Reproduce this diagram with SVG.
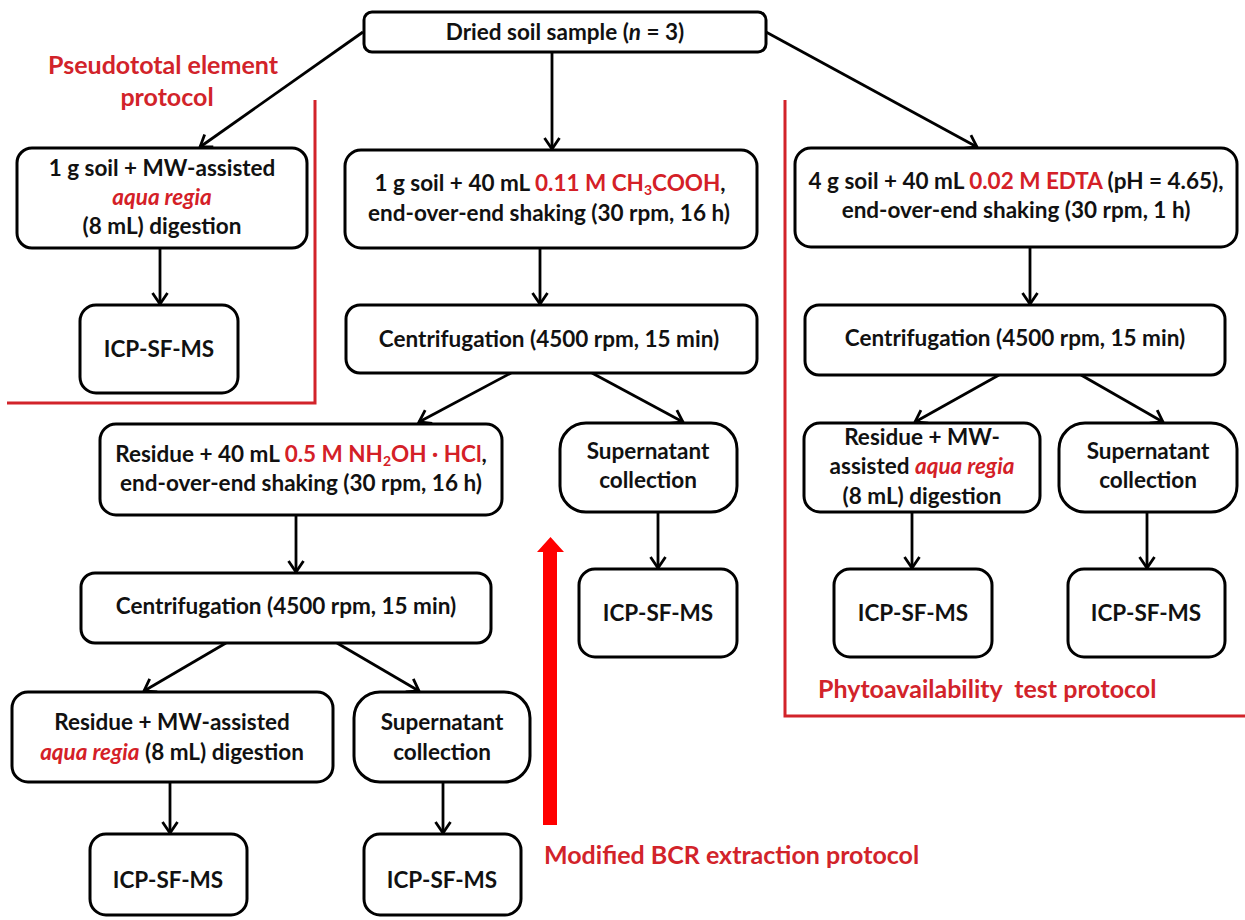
<svg xmlns="http://www.w3.org/2000/svg" width="1245" height="920" viewBox="0 0 1245 920">
<defs>
<style>
.box{fill:#fff;stroke:#000;stroke-width:3}
.t{font-family:Lato,"Liberation Sans",sans-serif;font-weight:700;font-size:22.5px;fill:#111;text-anchor:middle}
.r{fill:#d42027}
.i{font-style:italic}
.lab{font-family:Lato,"Liberation Sans",sans-serif;font-weight:700;font-size:25px;fill:#d2232a}
.c{fill:none;stroke:#000;stroke-width:2.8}
.rl{fill:none;stroke:#d2232a;stroke-width:3}
</style>
<marker id="ah" markerUnits="userSpaceOnUse" markerWidth="18" markerHeight="18" viewBox="0 0 18 18" refX="15" refY="9" orient="auto">
<path d="M4,1.5 L15,9 L4,16.5" fill="none" stroke="#000" stroke-width="2.8"/>
</marker>
</defs>
<g id="annotations">
<polyline class="rl" points="315,100 315,403 7,403"/>
<polyline class="rl" points="785,100 785,716 1245,716"/>
<text class="lab" x="163" y="74" text-anchor="middle">Pseudototal element</text>
<text class="lab" x="167" y="106" text-anchor="middle">protocol</text>
<text class="lab" x="818" y="698" style="white-space:pre">Phytoavailability  test protocol</text>
<text class="lab" x="544" y="864">Modified BCR extraction protocol</text>
<polygon points="543,825 557,825 557,552 564,552 550.5,537 537,552 543,552" fill="#ff0000"/>
</g>
<g id="connectors">
<line class="c" x1="363" y1="32" x2="200" y2="147" marker-end="url(#ah)"/>
<line class="c" x1="552" y1="52" x2="552" y2="149" marker-end="url(#ah)"/>
<line class="c" x1="766" y1="32" x2="977" y2="147" marker-end="url(#ah)"/>
<line class="c" x1="160" y1="248" x2="160" y2="304" marker-end="url(#ah)"/>
<line class="c" x1="540" y1="248" x2="540" y2="304" marker-end="url(#ah)"/>
<line class="c" x1="1030" y1="247" x2="1030" y2="304" marker-end="url(#ah)"/>
<line class="c" x1="511" y1="373" x2="419" y2="422" marker-end="url(#ah)"/>
<line class="c" x1="592" y1="373" x2="683" y2="422" marker-end="url(#ah)"/>
<line class="c" x1="999" y1="375" x2="915" y2="422" marker-end="url(#ah)"/>
<line class="c" x1="1081" y1="375" x2="1163" y2="422" marker-end="url(#ah)"/>
<line class="c" x1="296" y1="515" x2="296" y2="572" marker-end="url(#ah)"/>
<line class="c" x1="658" y1="512" x2="658" y2="568" marker-end="url(#ah)"/>
<line class="c" x1="912" y1="512" x2="912" y2="568" marker-end="url(#ah)"/>
<line class="c" x1="1147" y1="512" x2="1147" y2="568" marker-end="url(#ah)"/>
<line class="c" x1="226" y1="643" x2="144" y2="691" marker-end="url(#ah)"/>
<line class="c" x1="337" y1="643" x2="419" y2="691" marker-end="url(#ah)"/>
<line class="c" x1="170" y1="782" x2="170" y2="833" marker-end="url(#ah)"/>
<line class="c" x1="443" y1="782" x2="443" y2="833" marker-end="url(#ah)"/>
</g>
<g id="n_top">
<rect class="box" x="364" y="12" width="402" height="40" rx="8"/>
<text class="t" x="565" y="40">Dried soil sample (<tspan class="i">n</tspan> = 3)</text>
</g>
<g id="n_l1">
<rect class="box" x="17" y="148" width="290" height="100" rx="15"/>
<text class="t" x="162" y="176">1 g soil + MW-assisted</text>
<text class="t r i" x="162" y="205">aqua regia</text>
<text class="t" x="162" y="234">(8 mL) digestion</text>
</g>
<g id="n_l2">
<rect class="box" x="80" y="305" width="158" height="88" rx="16"/>
<text class="t" x="159" y="357">ICP-SF-MS</text>
</g>
<g id="n_m1">
<rect class="box" x="345" y="150" width="412" height="98" rx="16"/>
<text class="t" x="550" y="191">1 g soil + 40 mL <tspan class="r">0.11 M CH<tspan font-size="14" dy="4">3</tspan><tspan dy="-4">COOH</tspan></tspan>,</text>
<text class="t" x="549" y="221">end-over-end shaking (30 rpm, 16 h)</text>
</g>
<g id="n_m2">
<rect class="box" x="346" y="305" width="411" height="68" rx="14"/>
<text class="t" x="549" y="347">Centrifugation (4500 rpm, 15 min)</text>
</g>
<g id="n_r1">
<rect class="box" x="795" y="148" width="442" height="99" rx="16"/>
<text class="t" x="1016" y="189">4 g soil + 40 mL <tspan class="r">0.02 M EDTA</tspan> (pH = 4.65),</text>
<text class="t" x="1016" y="218">end-over-end shaking (30 rpm, 1 h)</text>
</g>
<g id="n_r2">
<rect class="box" x="805" y="305" width="420" height="70" rx="14"/>
<text class="t" x="1015" y="346">Centrifugation (4500 rpm, 15 min)</text>
</g>
<g id="n_res1">
<rect class="box" x="100" y="424" width="402" height="91" rx="16"/>
<text class="t" x="301" y="462">Residue + 40 mL <tspan class="r">0.5 M NH<tspan font-size="14" dy="4">2</tspan><tspan dy="-4">OH · HCl</tspan></tspan>,</text>
<text class="t" x="301" y="491">end-over-end shaking (30 rpm, 16 h)</text>
</g>
<g id="n_cen3">
<rect class="box" x="81" y="573" width="410" height="70" rx="14"/>
<text class="t" x="286" y="614">Centrifugation (4500 rpm, 15 min)</text>
</g>
<g id="n_res2">
<rect class="box" x="12" y="692" width="321" height="90" rx="16"/>
<text class="t" x="172" y="730">Residue + MW-assisted</text>
<text class="t" x="172" y="760"><tspan class="r i">aqua regia</tspan> (8 mL) digestion</text>
</g>
<g id="n_sup3">
<rect class="box" x="354" y="692" width="176" height="90" rx="26"/>
<text class="t" x="442" y="730">Supernatant</text>
<text class="t" x="442" y="760">collection</text>
</g>
<g id="n_icp3a">
<rect class="box" x="90" y="834" width="157" height="81" rx="16"/>
<text class="t" x="168" y="888">ICP-SF-MS</text>
</g>
<g id="n_icp3b">
<rect class="box" x="364" y="834" width="157" height="81" rx="16"/>
<text class="t" x="442" y="888">ICP-SF-MS</text>
</g>
<g id="n_sup2">
<rect class="box" x="560" y="423" width="177" height="89" rx="26"/>
<text class="t" x="648" y="459">Supernatant</text>
<text class="t" x="648" y="488">collection</text>
</g>
<g id="n_icp2">
<rect class="box" x="579" y="569" width="158" height="88" rx="16"/>
<text class="t" x="658" y="621">ICP-SF-MS</text>
</g>
<g id="n_res4">
<rect class="box" x="804" y="423" width="236" height="89" rx="16"/>
<text class="t" x="922" y="445">Residue + MW-</text>
<text class="t" x="922" y="474">assisted <tspan class="r i">aqua regia</tspan></text>
<text class="t" x="922" y="504">(8 mL) digestion</text>
</g>
<g id="n_sup4">
<rect class="box" x="1059" y="423" width="178" height="89" rx="26"/>
<text class="t" x="1148" y="459">Supernatant</text>
<text class="t" x="1148" y="488">collection</text>
</g>
<g id="n_icp4a">
<rect class="box" x="834" y="569" width="158" height="88" rx="16"/>
<text class="t" x="913" y="621">ICP-SF-MS</text>
</g>
<g id="n_icp4b">
<rect class="box" x="1068" y="569" width="157" height="88" rx="16"/>
<text class="t" x="1146" y="621">ICP-SF-MS</text>
</g>
</svg>
